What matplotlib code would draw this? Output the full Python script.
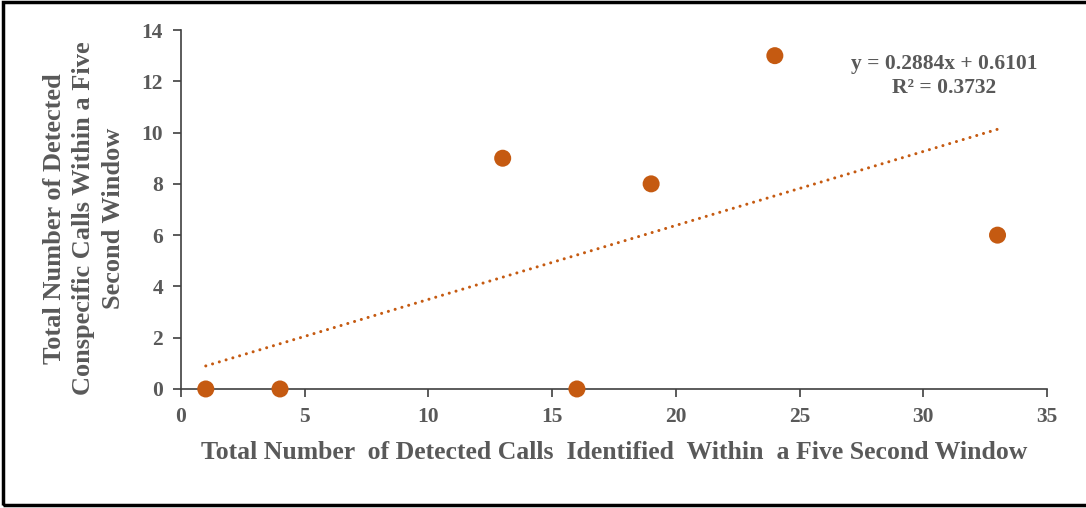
import matplotlib
matplotlib.use("Agg")
import matplotlib.pyplot as plt
from matplotlib.patches import Rectangle
import numpy as np

# Detected calls per five-second window
total_calls = [1, 4, 13, 16, 19, 24, 33]
conspecific_calls = [0, 0, 9, 0, 8, 13, 6]

x_ticks = [0, 5, 10, 15, 20, 25, 30, 35]
y_ticks = [0, 2, 4, 6, 8, 10, 12, 14]

x_label = "Total Number  of Detected Calls  Identified  Within  a Five Second Window"
y_label = "Total Number of Detected\nConspecific Calls Within a Five\nSecond Window"

orange = "#C55A11"
gray = "#595959"
font = "Liberation Serif"

fig = plt.figure(figsize=(10.86, 5.08), dpi=100)
ax = fig.add_axes([0.1667, 0.2343, 0.7974, 0.7066])

ax.scatter(total_calls, conspecific_calls, s=150, color=orange, zorder=3,
           edgecolors="none", clip_on=False)

# Least-squares trendline
x = np.array(total_calls, dtype=float)
y = np.array(conspecific_calls, dtype=float)
slope, intercept = np.polyfit(x, y, 1)
pred = slope * x + intercept
r2 = 1 - np.sum((y - pred) ** 2) / np.sum((y - y.mean()) ** 2)
xs = np.array([x.min(), x.max()])
ax.plot(xs, slope * xs + intercept, color=orange, lw=2.2,
        linestyle=(0, (0.01, 2.3)), dash_capstyle="round", zorder=2)

ax.text(0.881, 0.872, f"y = {slope:.4f}x + {intercept:.4f}\nR\u00b2 = {r2:.4f}",
        transform=ax.transAxes, ha="center", va="center", fontsize=15.5,
        fontweight="bold", color=gray, family=font, linespacing=1.3)

ax.set_xlim(0, 35)
ax.set_ylim(0, 14)
ax.set_xticks(x_ticks)
ax.set_yticks(y_ticks)
for side in ("top", "right"):
    ax.spines[side].set_visible(False)
for side in ("left", "bottom"):
    ax.spines[side].set_color("#404040")
    ax.spines[side].set_linewidth(1.2)
ax.tick_params(direction="out", length=6, width=1.2, color="#404040",
               labelsize=15.5, labelcolor=gray, pad=7)
for lab in ax.get_xticklabels() + ax.get_yticklabels():
    lab.set_fontfamily(font)
    lab.set_fontweight("bold")

ax.set_xlabel(x_label, fontsize=18.5, fontweight="bold", color=gray,
              family=font, labelpad=10)
ax.set_ylabel(y_label, fontsize=19, fontweight="bold", color=gray,
              family=font, labelpad=12, linespacing=1.35)
ax.yaxis.label.set_y(0.475)

fig.patches.append(Rectangle((0.003, 0.005), 1.2, 0.992, transform=fig.transFigure,
                             fill=False, edgecolor="black", lw=2.5))

fig.savefig("out.png", dpi=100, facecolor="white")
